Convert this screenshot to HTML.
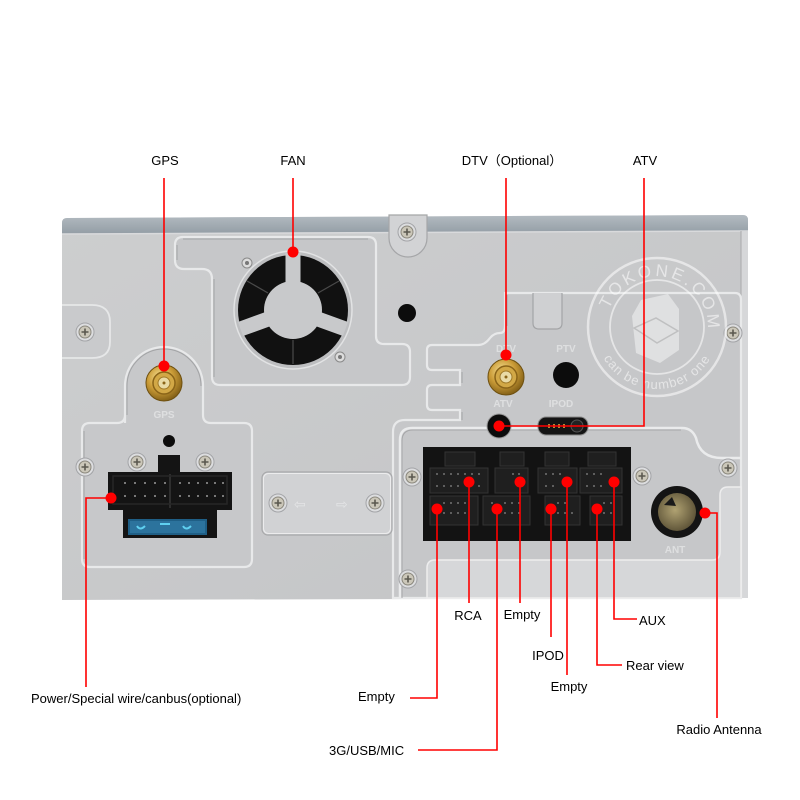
<!DOCTYPE html>
<html><head><meta charset="utf-8">
<style>
html,body{margin:0;padding:0;background:#fff;width:800px;height:800px;overflow:hidden;}
svg{display:block;}
text{font-family:"Liberation Sans",Arial,sans-serif;}
</style></head><body>
<svg width="800" height="800" viewBox="0 0 800 800" xmlns="http://www.w3.org/2000/svg">
<defs>
 <linearGradient id="face" x1="0" y1="0" x2="1" y2="1">
  <stop offset="0" stop-color="#cdcecf"/>
  <stop offset="1" stop-color="#c3c4c6"/>
 </linearGradient>
 <linearGradient id="band" x1="0" y1="0" x2="0" y2="1">
  <stop offset="0" stop-color="#b3bbc1"/>
  <stop offset="1" stop-color="#939da5"/>
 </linearGradient>
 <radialGradient id="gold" cx="0.4" cy="0.35" r="0.7">
  <stop offset="0" stop-color="#f7e39a"/>
  <stop offset="0.5" stop-color="#cc9d38"/>
  <stop offset="1" stop-color="#7a5812"/>
 </radialGradient>
 <radialGradient id="ant" cx="0.45" cy="0.45" r="0.6">
  <stop offset="0" stop-color="#b0a272"/>
  <stop offset="1" stop-color="#5a5035"/>
 </radialGradient>
 <g id="screw">
  <circle r="9" fill="#dcdddf" stroke="#a3a4a7" stroke-width="1"/>
  <circle r="6" fill="#cbc7b9" stroke="#8a877c" stroke-width="1"/>
  <path d="M-3.5,0H3.5M0,-3.5V3.5" stroke="#5b584f" stroke-width="1.6"/>
 </g>
 <g id="sma">
  <circle r="18" fill="url(#gold)" stroke="#6e5010" stroke-width="1"/>
  <circle r="11" fill="#d2a846" stroke="#8a6418" stroke-width="1.5"/>
  <circle r="6" fill="#e9dba6" stroke="#a07a28" stroke-width="1"/>
  <circle r="1.5" fill="#8a6418"/>
 </g>
</defs>

<!-- panel body -->
<path d="M62,223 Q62,218 67,218 L743,215 Q748,215 748,220 L748,598 L62,600 Z" fill="url(#face)"/>
<!-- top band -->
<path d="M62,223 Q62,218 67,218 L743,215 Q748,215 748,220 L748,231 L62,234 Z" fill="url(#band)"/>
<line x1="62" y1="234" x2="748" y2="231" stroke="#d9dadc" stroke-width="1.5"/>
<!-- right side bevel -->
<rect x="741" y="231" width="7" height="367" fill="#d6d7d9"/>
<line x1="741" y1="231" x2="741" y2="598" stroke="#a9aaac" stroke-width="1"/>
<!-- left bump near screw -->
<path d="M62,305 H92 Q110,305 110,322 V342 Q110,358 92,358 H62" fill="#c9cacc" stroke="#e6e7e8" stroke-width="1.8"/>
<!-- top screw tab -->
<path d="M389,215 H427 V238 A19,19 0 0 1 389,238 Z" fill="#d2d3d5" stroke="#a5a6a8" stroke-width="1.2"/>

<!-- fan recess -->
<g fill="#c6c7c9">
<path d="M183,237 H368 Q376,237 376,245 V336 Q376,344 384,344 H402 Q410,344 410,352 V377 Q410,385 402,385 H220 Q212,385 212,377 V279 Q212,269 202,269 H184 Q175,269 175,260 V245 Q175,237 183,237 Z" stroke="#e8e9ea" stroke-width="2.2"/>
<path d="M183,239 H368 M177,245 V260 M214,279 V377" stroke="#a3a4a6" stroke-width="1" fill="none"/>
</g>

<!-- GPS / power recess -->
<path d="M125,423 V386 A39,39 0 0 1 203,386 V415 Q203,423 211,423 H244 Q252,423 252,431 V559 Q252,567 244,567 H90 Q82,567 82,559 V431 Q82,423 90,423 H117 Q125,423 125,415 Z" fill="#c7c8ca" stroke="#e8e9ea" stroke-width="2.2"/>
<path d="M127,415 V386 A37,37 0 0 1 201,386 M84,431 V559" fill="none" stroke="#a3a4a6" stroke-width="1"/>

<!-- DTV / connector recess -->
<path d="M505,293 H735 Q741,293 741,300 V598 H393 V432 Q393,420 405,420 H460 V410 H432 Q427,410 427,405 V390 Q427,385 432,385 H460 V370 H432 Q427,370 427,365 V350 Q427,345 432,345 H478 Q485,345 490,338 Q494,333 500,333 Q505,333 505,326 Z" fill="#c6c7c9" stroke="#e8e9ea" stroke-width="2.2"/>
<path d="M533,293 V323 Q533,329 539,329 H556 Q562,329 562,323 V293" fill="#cfd0d2" stroke="#a3a4a6" stroke-width="1.2"/>
<path d="M507,295 V326 M462,372 V383 M462,412 V420" fill="none" stroke="#a3a4a6" stroke-width="1"/>
<!-- connector compartment border -->
<path d="M400,598 V440 Q400,428 412,428 H682 Q692,428 696,438 Q700,458 722,458 H741" fill="none" stroke="#eaebec" stroke-width="2.5"/>
<path d="M402,598 V441 Q402,430 413,430 H681" fill="none" stroke="#a6a7a9" stroke-width="1"/>
<path d="M427,598 V568 Q427,560 435,560 H712 Q720,560 720,552 V495 Q720,487 728,487 H741 V598 Z" fill="#d6d7d9" stroke="#ededee" stroke-width="1.5"/>

<!-- middle plate -->
<rect x="262" y="472" width="130" height="63" rx="6" fill="#d1d2d4" stroke="#a7a8aa" stroke-width="1.2"/>
<rect x="263.5" y="473.5" width="127" height="60" rx="5" fill="none" stroke="#ececed" stroke-width="1"/>
<text x="294" y="509" font-size="14" fill="#e4e5e6">⇦</text>
<text x="336" y="509" font-size="14" fill="#e4e5e6">⇨</text>

<!-- fan -->
<circle cx="293" cy="310" r="59" fill="#bdbec0" stroke="#e2e3e4" stroke-width="1.5"/>
<circle cx="293" cy="310" r="55" fill="#111"/>
<circle cx="293" cy="310" r="29" fill="#c8c9cb"/>
<g stroke="#c8c9cb" stroke-width="15" stroke-linecap="butt">
 <line x1="293" y1="310" x2="293" y2="253"/>
 <line x1="293" y1="310" x2="345.5" y2="329"/>
 <line x1="293" y1="310" x2="240.5" y2="329"/>
</g>
<g stroke="#4a4a4a" stroke-width="1.2">
 <line x1="293" y1="340" x2="293" y2="364"/>
 <line x1="268" y1="293" x2="247" y2="281"/>
 <line x1="318" y1="293" x2="339" y2="281"/>
</g>
<circle cx="247" cy="263" r="5" fill="#dcdcdc" stroke="#8a8a8a"/>
<circle cx="247" cy="263" r="2" fill="#777"/>
<circle cx="340" cy="357" r="5" fill="#dcdcdc" stroke="#8a8a8a"/>
<circle cx="340" cy="357" r="2" fill="#777"/>

<!-- holes -->
<circle cx="407" cy="313" r="9" fill="#0c0c0c"/>
<circle cx="169" cy="441" r="6" fill="#0c0c0c"/>
<circle cx="566" cy="375" r="13" fill="#0c0c0c"/>
<circle cx="499" cy="426" r="12" fill="#0c0c0c" stroke="#9a9a9a" stroke-width="1"/>
<!-- ipod slot -->
<rect x="538" y="417" width="50" height="18" rx="8" fill="#141414" stroke="#888" stroke-width="1"/>
<circle cx="577" cy="426" r="6" fill="#222" stroke="#555"/>
<g fill="#b08a3a"><rect x="548" y="424" width="2" height="4"/><rect x="553" y="424" width="2" height="4"/><rect x="558" y="424" width="2" height="4"/><rect x="563" y="424" width="2" height="4"/></g>

<!-- embossed labels -->
<g font-size="10" font-weight="bold" fill="#e3e4e5" text-anchor="middle" opacity="0.85">
 <text x="164" y="418">GPS</text>
 <text x="506" y="352">DTV</text>
 <text x="566" y="352">PTV</text>
 <text x="503" y="407">ATV</text>
 <text x="561" y="407">IPOD</text>
 <text x="675" y="553">ANT</text>
</g>

<!-- SMA connectors -->
<use href="#sma" x="164" y="383"/>
<use href="#sma" x="506" y="377"/>

<!-- power connector -->
<path d="M108,472 H158 V455 H180 V472 H232 V510 H217 V538 H123 V510 H108 Z" fill="#141414"/>
<line x1="170" y1="474" x2="170" y2="508" stroke="#2e2e2e" stroke-width="2"/>
<rect x="113" y="476" width="114" height="28" fill="none" stroke="#262626" stroke-width="1.5"/>
<g fill="#9a9a9a">
 <circle cx="125" cy="483" r="1"/><circle cx="135" cy="483" r="1"/><circle cx="145" cy="483" r="1"/><circle cx="155" cy="483" r="1"/><circle cx="165" cy="483" r="1"/>
 <circle cx="180" cy="483" r="1"/><circle cx="189" cy="483" r="1"/><circle cx="198" cy="483" r="1"/><circle cx="207" cy="483" r="1"/><circle cx="215" cy="483" r="1"/><circle cx="223" cy="483" r="1"/>
 <circle cx="125" cy="496" r="1"/><circle cx="135" cy="496" r="1"/><circle cx="145" cy="496" r="1"/><circle cx="155" cy="496" r="1"/><circle cx="165" cy="496" r="1"/>
 <circle cx="180" cy="496" r="1"/><circle cx="189" cy="496" r="1"/><circle cx="198" cy="496" r="1"/><circle cx="207" cy="496" r="1"/><circle cx="215" cy="496" r="1"/><circle cx="223" cy="496" r="1"/>
</g>
<rect x="128" y="519" width="79" height="16" fill="#1f5f86"/>
<rect x="130" y="521" width="75" height="12" fill="#2f78a3" opacity="0.8"/>
<g stroke="#5fd0f0" stroke-width="2" fill="none">
 <path d="M137,526 q3,5 8,0"/><path d="M183,526 q3,5 8,0"/><path d="M160,524 h10"/>
</g>

<!-- connector block -->
<rect x="423" y="447" width="208" height="94" fill="#131313"/>
<g fill="#1f1f1f" stroke="#333" stroke-width="1">
 <rect x="430" y="468" width="58" height="25"/>
 <rect x="495" y="468" width="33" height="25"/>
 <rect x="538" y="468" width="39" height="25"/>
 <rect x="580" y="468" width="42" height="25"/>
 <rect x="430" y="496" width="48" height="29"/>
 <rect x="483" y="496" width="47" height="29"/>
 <rect x="545" y="496" width="35" height="29"/>
 <rect x="590" y="496" width="32" height="29"/>
 <rect x="445" y="452" width="30" height="14"/>
 <rect x="500" y="452" width="24" height="14"/>
 <rect x="545" y="452" width="24" height="14"/>
 <rect x="588" y="452" width="28" height="14"/>
</g>
<g fill="#8c8c8c">
 <circle cx="437" cy="474" r="0.9"/><circle cx="444" cy="474" r="0.9"/><circle cx="451" cy="474" r="0.9"/><circle cx="458" cy="474" r="0.9"/><circle cx="465" cy="474" r="0.9"/><circle cx="472" cy="474" r="0.9"/><circle cx="479" cy="474" r="0.9"/>
 <circle cx="437" cy="486" r="0.9"/><circle cx="444" cy="486" r="0.9"/><circle cx="451" cy="486" r="0.9"/><circle cx="458" cy="486" r="0.9"/><circle cx="479" cy="486" r="0.9"/>
 <circle cx="513" cy="474" r="0.9"/><circle cx="519" cy="474" r="0.9"/>
 <circle cx="546" cy="474" r="0.9"/><circle cx="553" cy="474" r="0.9"/><circle cx="560" cy="474" r="0.9"/><circle cx="546" cy="486" r="0.9"/><circle cx="553" cy="486" r="0.9"/>
 <circle cx="587" cy="474" r="0.9"/><circle cx="594" cy="474" r="0.9"/><circle cx="601" cy="474" r="0.9"/><circle cx="587" cy="486" r="0.9"/><circle cx="594" cy="486" r="0.9"/><circle cx="601" cy="486" r="0.9"/>
 <circle cx="444" cy="503" r="0.9"/><circle cx="451" cy="503" r="0.9"/><circle cx="458" cy="503" r="0.9"/><circle cx="465" cy="503" r="0.9"/><circle cx="444" cy="513" r="0.9"/><circle cx="451" cy="513" r="0.9"/><circle cx="458" cy="513" r="0.9"/><circle cx="465" cy="513" r="0.9"/>
 <circle cx="492" cy="503" r="0.9"/><circle cx="505" cy="503" r="0.9"/><circle cx="512" cy="503" r="0.9"/><circle cx="519" cy="503" r="0.9"/><circle cx="505" cy="513" r="0.9"/><circle cx="512" cy="513" r="0.9"/><circle cx="519" cy="513" r="0.9"/>
 <circle cx="558" cy="503" r="0.9"/><circle cx="565" cy="503" r="0.9"/><circle cx="558" cy="513" r="0.9"/><circle cx="565" cy="513" r="0.9"/><circle cx="572" cy="513" r="0.9"/>
 <circle cx="604" cy="503" r="0.9"/><circle cx="611" cy="503" r="0.9"/><circle cx="604" cy="513" r="0.9"/><circle cx="611" cy="513" r="0.9"/>
</g>

<!-- antenna -->
<circle cx="677" cy="512" r="26" fill="#141414"/>
<circle cx="677" cy="512" r="19" fill="url(#ant)"/>
<path d="M664,505 L672,497 L676,506 Z" fill="#1a1a1a"/>

<!-- screws -->
<use href="#screw" x="407" y="232"/>
<use href="#screw" x="85" y="332"/>
<use href="#screw" x="85" y="467"/>
<use href="#screw" x="137" y="462"/>
<use href="#screw" x="205" y="462"/>
<use href="#screw" x="278" y="503"/>
<use href="#screw" x="375" y="503"/>
<use href="#screw" x="412" y="477"/>
<use href="#screw" x="408" y="579"/>
<use href="#screw" x="642" y="476"/>
<use href="#screw" x="728" y="468"/>
<use href="#screw" x="733" y="333"/>

<!-- watermark -->
<g opacity="0.55">
 <circle cx="657" cy="327" r="69" fill="none" stroke="#fff" stroke-width="2.5"/>
 <circle cx="657" cy="327" r="47" fill="none" stroke="#fff" stroke-width="1.8"/>
 <path id="wtop" d="M606.8,318.1 A51,51 0 1 1 706.3,340.2" fill="none"/>
 <path id="wbot" d="M597.1,343 A62,62 0 0 0 716.9,343" fill="none"/>
 <text font-size="17" fill="#fff" letter-spacing="3"><textPath href="#wtop" startOffset="50%" text-anchor="middle">TOKONE.COM</textPath></text>
 <text font-size="13" fill="#fff" letter-spacing="1"><textPath href="#wbot" startOffset="50%" text-anchor="middle">can be number one</textPath></text>
 <polygon points="641,300 668,294 679,309 679,350 660,363 636,353 632,316" fill="#fff" opacity="0.8"/>
 <path d="M634,328 L656,318 L678,331 L657,343 Z" fill="none" stroke="#bbb" stroke-width="1.5"/>
</g>

<!-- red leader lines -->
<g stroke="#ff0000" stroke-width="1.6" fill="none">
 <line x1="164" y1="178" x2="164" y2="366"/>
 <line x1="293" y1="178" x2="293" y2="252"/>
 <line x1="506" y1="178" x2="506" y2="355"/>
 <polyline points="644,178 644,426 499,426"/>
 <polyline points="111,498 86,498 86,687"/>
 <polyline points="437,509 437,698 410,698"/>
 <line x1="469" y1="482" x2="469" y2="603"/>
 <polyline points="497,509 497,750 418,750"/>
 <line x1="520" y1="482" x2="520" y2="603"/>
 <line x1="551" y1="509" x2="551" y2="637"/>
 <line x1="567" y1="482" x2="567" y2="675"/>
 <polyline points="597,509 597,665 622,665"/>
 <polyline points="614,482 614,619 637,619"/>
 <polyline points="705,513 717,513 717,718"/>
</g>
<g fill="#ff0000">
 <circle cx="164" cy="366" r="5.5"/>
 <circle cx="293" cy="252" r="5.5"/>
 <circle cx="506" cy="355" r="5.5"/>
 <circle cx="499" cy="426" r="5.5"/>
 <circle cx="111" cy="498" r="5.5"/>
 <circle cx="469" cy="482" r="5.5"/>
 <circle cx="520" cy="482" r="5.5"/>
 <circle cx="567" cy="482" r="5.5"/>
 <circle cx="614" cy="482" r="5.5"/>
 <circle cx="437" cy="509" r="5.5"/>
 <circle cx="497" cy="509" r="5.5"/>
 <circle cx="551" cy="509" r="5.5"/>
 <circle cx="597" cy="509" r="5.5"/>
 <circle cx="705" cy="513" r="5.5"/>
</g>

<!-- labels -->
<g font-size="13" fill="#000">
 <text x="165" y="165" text-anchor="middle">GPS</text>
 <text x="293" y="165" text-anchor="middle">FAN</text>
 <text x="512" y="165" text-anchor="middle" style='font-family:"Liberation Sans","Noto Sans CJK SC",sans-serif'>DTV（Optional）</text>
 <text x="645" y="165" text-anchor="middle">ATV</text>
 <text x="31" y="703">Power/Special wire/canbus(optional)</text>
 <text x="358" y="701">Empty</text>
 <text x="468" y="620" text-anchor="middle">RCA</text>
 <text x="522" y="619" text-anchor="middle">Empty</text>
 <text x="548" y="660" text-anchor="middle">IPOD</text>
 <text x="569" y="691" text-anchor="middle">Empty</text>
 <text x="626" y="670">Rear view</text>
 <text x="639" y="625">AUX</text>
 <text x="329" y="755">3G/USB/MIC</text>
 <text x="719" y="734" text-anchor="middle">Radio Antenna</text>
</g>
</svg>
</body></html>
